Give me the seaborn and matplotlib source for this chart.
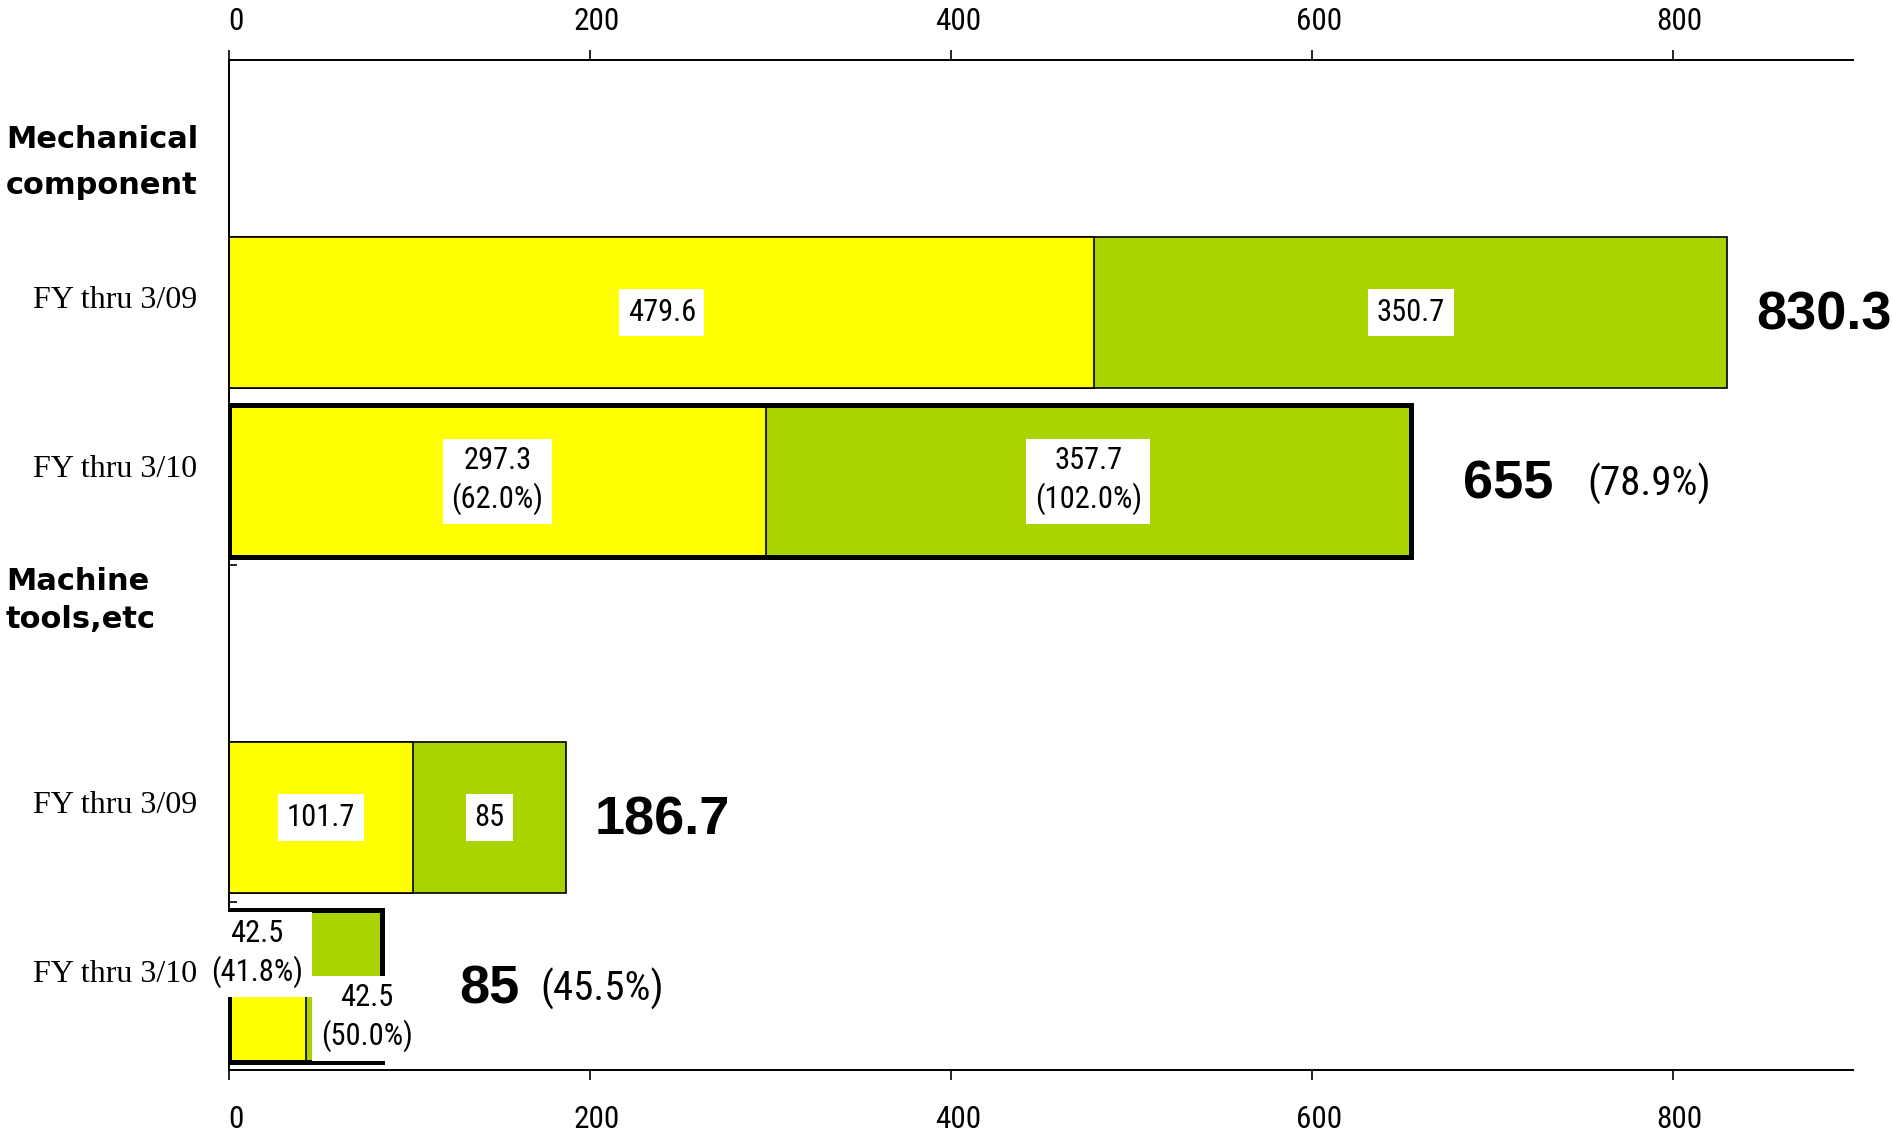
import numpy as np
import pandas as pd
import matplotlib
matplotlib.use("Agg")
import matplotlib.pyplot as plt
from matplotlib import font_manager
from matplotlib.transforms import ScaledTranslation, blended_transform_factory
import seaborn as sns

# ---------------- data ----------------
groups = ["Mechanical component", "Machine tools,etc"]
group_titles = ["Mechanical\ncomponent", "Machine\ntools,etc"]
periods = ["FY thru 3/09", "FY thru 3/10"]
first_vals = [479.6, 297.3, 101.7, 42.5]
second_vals = [350.7, 357.7, 85.0, 42.5]
totals = [830.3, 655.0, 186.7, 85.0]
first_pct = [None, 62.0, None, 41.8]
second_pct = [None, 102.0, None, 50.0]
total_pct = [None, 78.9, None, 45.5]
x_ticks = [0, 200, 400, 600, 800]

# ---------------- style / layout ----------------
YELLOW = "#FFFF00"
GREEN = "#AAD400"
first_label_shift = [(0, 0), (0, 0), (0, 0), (-5.7, -0.19)]
second_label_shift = [(0, 0), (0, 0), (0, 0), (12.5, 0.19)]
total_gap = [16, 29, 16, 42.5]
pct_gap_pt = [0, 24, 0, 15]
heading_shift = [0.11, -0.29]
heading_linespacing = [1.73, 1.37]

sns.set_theme(style="white")


def has_font(name):
    try:
        font_manager.findfont(font_manager.FontProperties(family=name),
                              fallback_to_default=False)
        return True
    except Exception:
        return False


GOTHIC = next((f for f in ["Roboto Condensed", "IPAPGothic", "Liberation Sans"]
               if has_font(f)), "DejaVu Sans")
GFAM = [GOTHIC, "DejaVu Sans"]
plt.rcParams["font.family"] = ["Liberation Sans", "DejaVu Sans"]
for k in ["text.color", "axes.labelcolor", "xtick.color", "ytick.color",
          "axes.edgecolor"]:
    plt.rcParams[k] = "black"

row_group = [g for g in groups for _ in periods]
row_period = periods * len(groups)
row_key = [f"{g} | {p}" for g, p in zip(row_group, row_period)]
order = []
for g in groups:
    order.append(g)
    order += [f"{g} | {p}" for p in periods]

df = pd.DataFrame({"row": row_key, "period": row_period,
                   "first": first_vals, "second": second_vals,
                   "total": totals})

fig = plt.figure(figsize=(18.93, 11.38), dpi=100)
ax = fig.add_axes([0.121, 0.0598, 0.8579, 0.8875])

common = dict(y="row", order=order, orient="h", width=0.9,
              errorbar=None, ax=ax, saturation=1)
# full bar (green) then the first segment (yellow) on top of it
sns.barplot(data=df, x="total", color=GREEN, edgecolor="black",
            linewidth=1.2, **common)
sns.barplot(data=df, x="first", color=YELLOW, edgecolor="black",
            linewidth=1.2, **common)
# thick outline around current-year bars
cur = df[df["period"] == periods[1]]
sns.barplot(data=cur, x="total", color="black", fill=False,
            linewidth=3.6, zorder=3, **common)

ax.set_xlim(0, 900)
ax.set_ylim(len(order) - 0.5, -0.5)
ax.set_xlabel("")
ax.set_ylabel("")

# ---------------- labels inside bars ----------------
box = dict(boxstyle="square,pad=0.28", facecolor="white", edgecolor="none")
for i, r in df.iterrows():
    y = order.index(r["row"])
    txt1 = f"{r['first']:g}" + (f"\n({first_pct[i]:.1f}%)" if first_pct[i] is not None else "")
    txt2 = f"{r['second']:g}" + (f"\n({second_pct[i]:.1f}%)" if second_pct[i] is not None else "")
    dx1, dy1 = first_label_shift[i]
    dx2, dy2 = second_label_shift[i]
    ax.text(r["first"] / 2 + dx1, y + dy1, txt1, ha="center", va="center",
            fontsize=22, family=GFAM, bbox=box, zorder=5, linespacing=1.3)
    ax.text(r["first"] + r["second"] / 2 + dx2, y + dy2, txt2, ha="center",
            va="center", fontsize=22, family=GFAM, bbox=box, zorder=5,
            linespacing=1.3)
    t = ax.text(r["total"] + total_gap[i], y + 0.02, f"{r['total']:g}",
                ha="left", va="center", fontsize=39, fontweight="bold",
                family=["Liberation Sans", "DejaVu Sans"], zorder=5,
                clip_on=False)
    if total_pct[i] is not None:
        ax.annotate(f"({total_pct[i]:.1f}%)", xy=(1, 0.5), xycoords=t,
                    xytext=(pct_gap_pt[i], 0), textcoords="offset points",
                    ha="left", va="center", fontsize=29.5, family=GFAM,
                    zorder=5)

# ---------------- group headings ----------------
htrans = blended_transform_factory(fig.transFigure, ax.transData)
for g, title, sh, ls in zip(groups, group_titles, heading_shift,
                            heading_linespacing):
    ax.text(0.0032, order.index(g) + sh, title, transform=htrans,
            ha="left", va="center", fontsize=22, fontweight="bold",
            family=["DejaVu Sans"], linespacing=ls, clip_on=False)

# ---------------- axes styling ----------------
ax.set_yticks(range(len(order)))
ax.set_yticklabels([("" if k in groups else k.split(" | ")[1]) for k in order],
                   family=["Liberation Serif", "DejaVu Serif"], fontsize=23)
ax.tick_params(axis="y", which="major", length=0, pad=23, left=False)
ax.set_yticks([2.5, 4.5], minor=True)
ax.tick_params(axis="y", which="minor", direction="in", length=6,
               width=1.2, color="black", left=True)

ax.set_xticks(x_ticks)
ax.set_xticklabels([str(v) for v in x_ticks], fontsize=22.5, family=GFAM)
ax.tick_params(axis="x", which="major", top=True, bottom=True,
               labeltop=True, labelbottom=True, direction="out",
               length=7, width=1.2, color="black", pad=10)

for s in ["top", "bottom", "left"]:
    ax.spines[s].set_visible(True)
    ax.spines[s].set_color("black")
    ax.spines[s].set_linewidth(1.4)
ax.spines["right"].set_visible(False)
ax.grid(False)

# small offsets to mimic label placement
for tk in ax.xaxis.get_major_ticks():
    tk.label1.set_transform(tk.label1.get_transform() +
                            ScaledTranslation(0.07, -0.11, fig.dpi_scale_trans))
    tk.label2.set_transform(tk.label2.get_transform() +
                            ScaledTranslation(0.07, 0, fig.dpi_scale_trans))
for tk in ax.yaxis.get_major_ticks():
    tk.label1.set_transform(tk.label1.get_transform() +
                            ScaledTranslation(0, 0.15, fig.dpi_scale_trans))

fig.savefig("out.png", dpi=100)
